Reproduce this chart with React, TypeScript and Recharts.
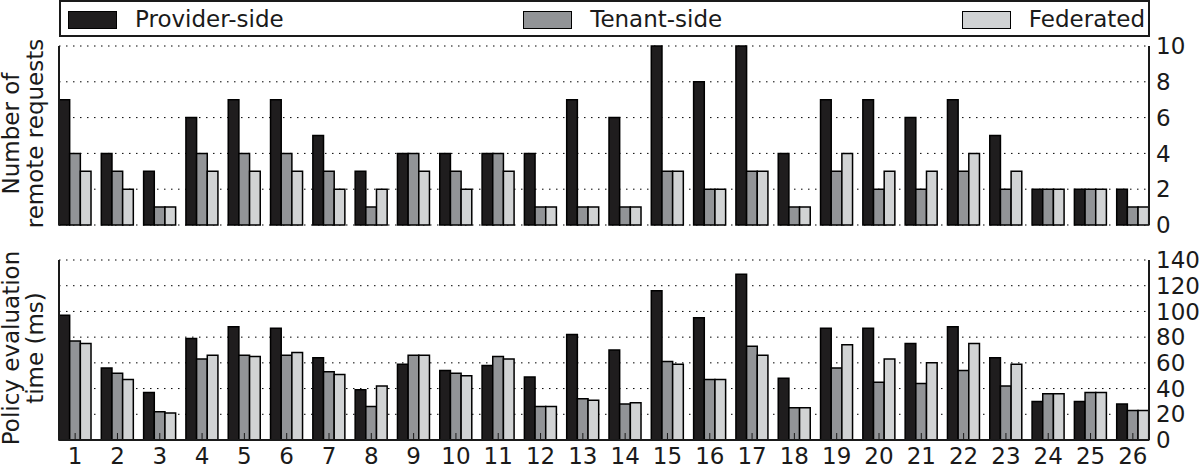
import React from 'react';
import { BarChart, Bar, XAxis, YAxis, CartesianGrid } from 'recharts';

const categories = ['1','2','3','4','5','6','7','8','9','10','11','12','13','14','15','16','17','18','19','20','21','22','23','24','25','26'];
const seriesNames = ['Provider-side', 'Tenant-side', 'Federated'];
const seriesColors = ['#1f1d1e', '#929497', '#d1d3d4'];

const providerRequests = [7,4,3,6,7,7,5,3,4,4,4,4,7,6,10,8,10,4,7,7,6,7,5,2,2,2];
const tenantRequests   = [4,3,1,4,4,4,3,1,4,3,4,1,1,1,3,2,3,1,3,2,2,3,2,2,2,1];
const federatedRequests= [3,2,1,3,3,3,2,2,3,2,3,1,1,1,3,2,3,1,4,3,3,4,3,2,2,1];

const providerTime = [97,56,37,79,88,87,64,39,59,54,58,49,82,70,116,95,129,48,87,87,75,88,64,30,30,28];
const tenantTime   = [77,52,22,63,66,66,53,26,66,52,65,26,32,28,61,47,73,25,56,45,44,54,42,36,37,23];
const federatedTime= [75,47,21,66,65,68,51,42,66,50,63,26,31,29,59,47,66,25,74,63,60,75,59,36,37,23];

const requestTicks = [0,2,4,6,8,10];
const timeTicks = [0,20,40,60,80,100,120,140];

const requestLabel = ['Number of', 'remote requests'];
const timeLabel = ['Policy evaluation', 'time (ms)'];

const requestData = categories.map((c, i) => ({ cat: c, p: providerRequests[i], t: tenantRequests[i], f: federatedRequests[i] }));
const timeData = categories.map((c, i) => ({ cat: c, p: providerTime[i], t: tenantTime[i], f: federatedTime[i] }));

const FONT = '"DejaVu Sans", sans-serif';
const INK = '#1a1a1a';
const AX_PAD = { left: -5, right: -5 };

const TopTick = (props: any) => {
  const { x, y } = props;
  return <line x1={x} x2={x} y1={y} y2={y + 7} stroke={INK} strokeWidth={1} />;
};

const BottomTickNoLabel = (props: any) => {
  const { x, y } = props;
  return <line x1={x} x2={x} y1={y} y2={y - 7} stroke={INK} strokeWidth={1} />;
};

const BottomTickLabel = (props: any) => {
  const { x, y, payload } = props;
  return (
    <g>
      <line x1={x} x2={x} y1={y} y2={y - 7} stroke={INK} strokeWidth={1} />
      <text x={x} y={y + 23.5} textAnchor="middle" fontSize={23} fill={INK} fontFamily={FONT}>{payload.value}</text>
    </g>
  );
};

const makeLabel = (lines: string[]) => (props: any) => {
  const vb = props.viewBox || {};
  const cy = (vb.y || 0) + (vb.height || 0) / 2 - 2;
  const xs = [19, 43];
  return (
    <g>
      {lines.map((ln, i) => (
        <text key={i} x={xs[i]} y={cy} transform={`rotate(-90, ${xs[i]}, ${cy})`} textAnchor="middle" fontSize={23} fill={INK} fontFamily={FONT}>{ln}</text>
      ))}
    </g>
  );
};

const Panel = ({ data, ticks, max, label, showLabels, height, marginTop, marginBottom, bottomHeight }: any) => (
  <BarChart
    width={1200}
    height={height}
    data={data}
    margin={{ top: marginTop, right: 0, bottom: marginBottom, left: 0 }}
    barGap={0}
    barSize={10.67}
  >
    <CartesianGrid xAxisId="b" yAxisId="r" vertical={false} stroke="#000" strokeWidth={1} strokeDasharray="1.5 5.5" />
    <Bar xAxisId="b" yAxisId="r" dataKey="p" fill={seriesColors[0]} stroke="#000" strokeWidth={1.5} isAnimationActive={false} />
    <Bar xAxisId="b" yAxisId="r" dataKey="t" fill={seriesColors[1]} stroke="#000" strokeWidth={1.5} isAnimationActive={false} />
    <Bar xAxisId="b" yAxisId="r" dataKey="f" fill={seriesColors[2]} stroke="#000" strokeWidth={1.5} isAnimationActive={false} />
    <XAxis
      xAxisId="b"
      dataKey="cat"
      orientation="bottom"
      height={bottomHeight}
      padding={AX_PAD}
      interval={0}
      tickSize={0}
      tickMargin={0}
      tickLine={false}
      axisLine={{ stroke: INK, strokeWidth: 2 }}
      tick={showLabels ? <BottomTickLabel /> : <BottomTickNoLabel />}
    />
    <XAxis
      xAxisId="t"
      dataKey="cat"
      orientation="top"
      height={0}
      padding={AX_PAD}
      interval={0}
      tickSize={0}
      tickMargin={0}
      tickLine={false}
      axisLine={{ stroke: INK, strokeWidth: 2 }}
      tick={<TopTick />}
    />
    <YAxis
      yAxisId="l"
      orientation="left"
      width={59}
      domain={[0, max]}
      type="number"
      tick={false}
      tickLine={false}
      axisLine={{ stroke: INK, strokeWidth: 2 }}
      label={makeLabel(label)}
    />
    <YAxis
      yAxisId="r"
      orientation="right"
      width={51}
      domain={[0, max]}
      type="number"
      ticks={ticks}
      interval={0}
      tickSize={0}
      tickMargin={7}
      tickLine={false}
      axisLine={{ stroke: INK, strokeWidth: 2 }}
      tick={{ fill: INK, fontSize: 23, fontFamily: FONT, textAnchor: 'start' }}
    />
  </BarChart>
);

const LegendBox = () => (
  <div
    style={{
      position: 'absolute', left: 59, top: 0, width: 1091, height: 37, boxSizing: 'border-box',
      border: `2px solid ${INK}`, display: 'flex', alignItems: 'center', justifyContent: 'space-between',
      paddingLeft: 7, paddingRight: 3, paddingTop: 2, background: '#fff',
    }}
  >
    {seriesNames.map((n, i) => (
      <div key={n} style={{ display: 'flex', alignItems: 'center' }}>
        <div style={{ width: 49, height: 18, boxSizing: 'border-box', border: '1.5px solid #000', background: seriesColors[i], marginRight: 18 }} />
        <span style={{ fontSize: 23, lineHeight: 1, color: INK, fontFamily: FONT }}>{n}</span>
      </div>
    ))}
  </div>
);

export default function App() {
  return (
    <div style={{ position: 'absolute', left: 0, top: 0, width: 1200, height: 465, background: '#fff', fontFamily: FONT, overflow: 'hidden' }}>
      <div style={{ position: 'absolute', left: 0, top: 0 }}>
        <Panel data={requestData} ticks={requestTicks} max={10} label={requestLabel} showLabels={false} height={240} marginTop={46} marginBottom={15} bottomHeight={0} />
      </div>
      <div style={{ position: 'absolute', left: 0, top: 240 }}>
        <Panel data={timeData} ticks={timeTicks} max={140} label={timeLabel} showLabels={true} height={225} marginTop={20} marginBottom={0} bottomHeight={25} />
      </div>
      <LegendBox />
    </div>
  );
}
